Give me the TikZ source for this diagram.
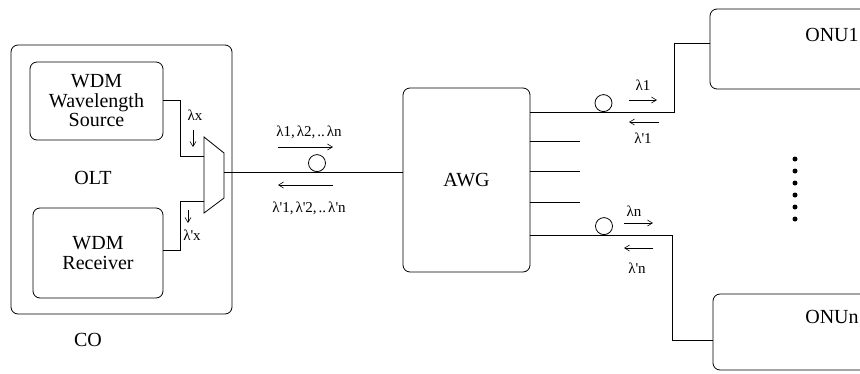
\documentclass[tikz,border=0pt]{standalone}
\usepackage{fontspec}
\setmainfont{Liberation Serif}
\newfontfamily\lserif{Liberation Serif}
\usetikzlibrary{arrows.meta}
\begin{document}
\begin{tikzpicture}[x=1pt,y=-1pt, line width=0.8pt,
  box/.style={draw, rounded corners=7pt, inner sep=0pt, align=center},
  big/.style={font=\lserif\fontsize{20}{19.5}\selectfont},
  lab/.style={font=\lserif\fontsize{15}{16}\selectfont, inner sep=0pt},
  arr/.style={-{Straight Barb[length=5pt,width=6pt]}, line width=0.6pt},
  ring/.style={draw, circle, minimum size=17pt, inner sep=0pt},
  dot/.style={fill, circle, minimum size=5pt, inner sep=0pt}]
\useasboundingbox (0,0) rectangle (860,373);
\clip (0,0) rectangle (860,373);
% boxes
\node[box, minimum width=221pt, minimum height=269pt] (co) at (121.5,179.5) {};
\node[box, big, minimum width=133pt, minimum height=78pt] (src) at (96.5,101) {WDM\\Wavelength\\Source};
\node[box, big, minimum width=130pt, minimum height=90pt] (rcv) at (98,253) {WDM\\Receiver};
\node[box, big, minimum width=127pt, minimum height=184pt] (awg) at (466.5,180) {AWG};
\node[box, minimum width=180pt, minimum height=80pt] (onu1) at (800,49) {};
\node[box, minimum width=180pt, minimum height=76pt] (onun) at (803,332) {};
% labels
\node[big] (olt) at (93,178) {OLT};
\node[big] (colab) at (88,340) {CO};
\node[big] (onu1lab) at (832,35) {ONU1};
\node[big] (onunlab) at (832,317) {ONUn};
% mux
\coordinate (m1) at (204,156);
\coordinate (m2) at (204,201);
\coordinate (mo) at (224,172);
\draw (204,137) -- (224,153) -- (224,198) -- (204,213) -- cycle;
\draw (src.east |- 0,100) -- (180,100) |- (m1);
\draw (rcv.east |- 0,250) -- (180,250) |- (m2);
\node[lab] (lx) at (195,115) {λx};
\draw[arr] (193,130) -- (193,147);
\node[lab] (lpx) at (192,235) {λ'x};
\draw[arr] (188,210) -- (188,223);
% trunk
\draw (mo) -- (awg.west |- mo);
\node[ring, anchor=south] (r0) at (317,172) {};
\draw[arr] (278,147) -- (333,147);
\draw[arr] (333,185) -- (278,185);
\node[lab] (ld) at (309,132) {λ1,\kern2pt λ2,\kern2pt ..\kern2pt λn};
\node[lab] (lu) at (309,208) {λ'1,\kern2pt λ'2,\kern2pt ..\kern2pt λ'n};
% AWG outputs
\coordinate (t1) at (674,112);
\coordinate (tn) at (672,235);
\draw (awg.east |- 0,112) -- (t1) |- (onu1.west |- 0,43);
\draw (awg.east |- 0,141) -- (580,141);
\draw (awg.east |- 0,171) -- (580,171);
\draw (awg.east |- 0,202) -- (580,202);
\draw (awg.east |- 0,235) -- (tn) |- (onun.west |- 0,340);
\node[ring, anchor=south] (r1) at (603.5,112) {};
\node[ring, anchor=south] (rn) at (604,235) {};
\draw[arr] (629,100) -- (657,100);
\draw[arr] (659,122) -- (629,122);
\node[lab] (l1) at (643,85) {λ1};
\node[lab] (lp1) at (643,138) {λ'1};
\draw[arr] (624,223) -- (653,223);
\draw[arr] (653,248) -- (624,248);
\node[lab] (ln) at (634,211) {λn};
\node[lab] (lpn) at (637,268) {λ'n};
% dots
\foreach \i in {0,...,5} \node[dot] (d\i) at (795,159+12*\i) {};
\end{tikzpicture}
\end{document}
